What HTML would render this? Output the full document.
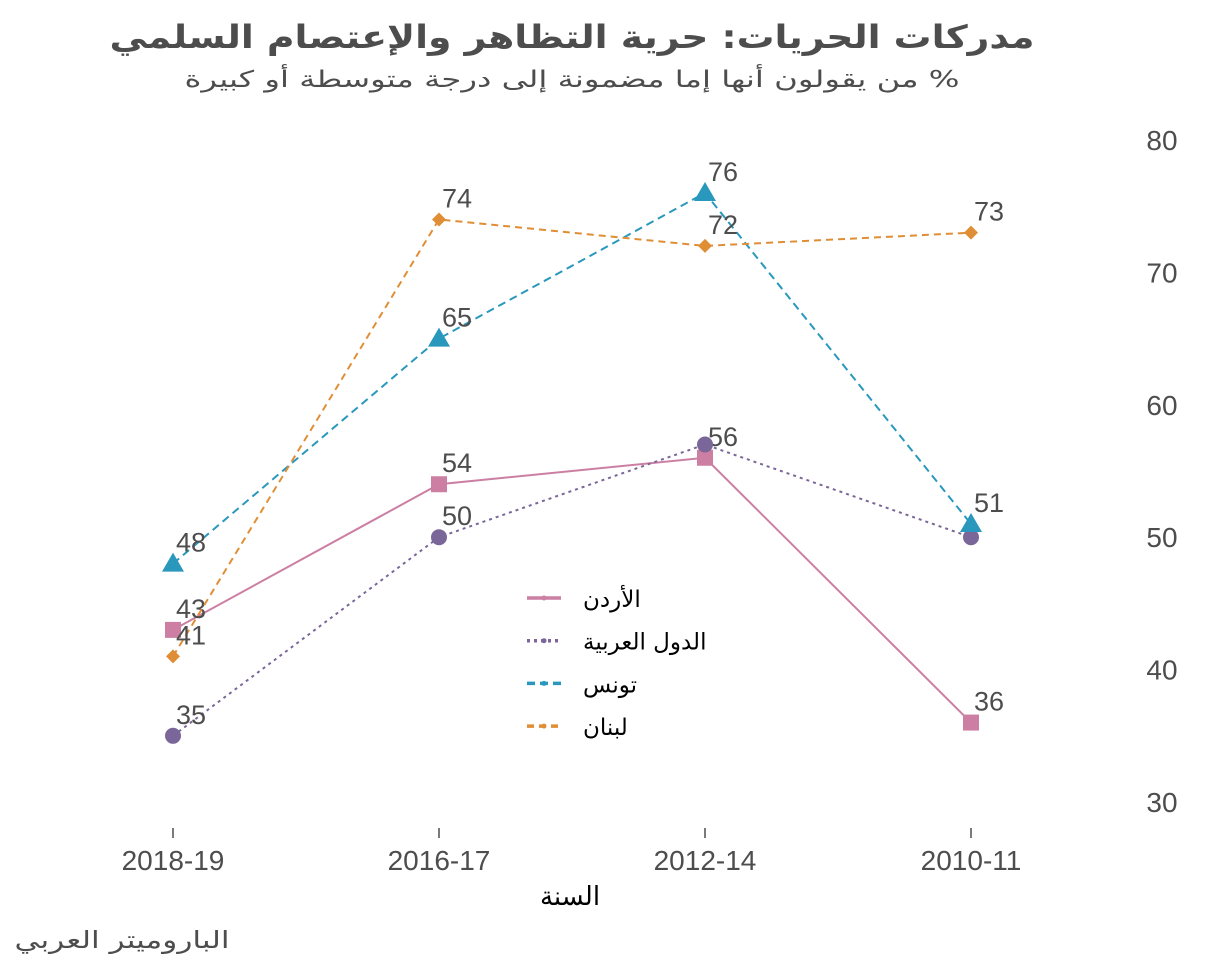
<!DOCTYPE html>
<html><head><meta charset="utf-8">
<style>
html,body{margin:0;padding:0;background:#fff;}
svg{display:block;font-family:"Liberation Sans","DejaVu Sans",sans-serif;}
.ar{font-family:"DejaVu Sans","Liberation Sans",sans-serif;}
</style></head>
<body>
<svg id="chart" width="1230" height="966" viewBox="0 0 1230 966">
<text class="ar" x="572" y="48" text-anchor="middle" font-size="32" font-weight="bold" fill="#4d4d4d" textLength="925" lengthAdjust="spacingAndGlyphs">مدركات الحريات: حرية التظاهر والإعتصام السلمي</text>
<text class="ar" x="572" y="87" text-anchor="middle" direction="rtl" font-size="23" fill="#4d4d4d" textLength="775" lengthAdjust="spacingAndGlyphs">% من يقولون أنها إما مضمونة إلى درجة متوسطة أو كبيرة</text>
<g id="yaxis"></g>
<g id="xaxis"></g>
<g id="series"></g>
<g id="legend"></g>
<text class="ar" x="570" y="905" text-anchor="middle" font-size="26" fill="#000">السنة</text>
<text class="ar" x="122" y="948" text-anchor="middle" font-size="24" fill="#4d4d4d" textLength="215" lengthAdjust="spacingAndGlyphs">الباروميتر العربي</text>
</svg>
<script>
const categories = ["2018-19","2016-17","2012-14","2010-11"];
const yTicks = [30,40,50,60,70,80];
const seriesNames = ["الأردن","الدول العربية","تونس","لبنان"];
const jordan = [43,54,56,36];
const arab = [35,50,57,50];
const tunisia = [48,65,76,51];
const lebanon = [41,74,72,73];
const jordanLabels = [true,true,true,true];
const arabLabels = [true,true,false,false];
const tunisiaLabels = [true,true,true,true];
const lebanonLabels = [true,true,true,true];

const NS="http://www.w3.org/2000/svg";
function x(i){return 173+i*266;}
function y(v){return 802-(v-30)*13.24;}
function mk(tag,attrs,parent){const e=document.createElementNS(NS,tag);for(const k in attrs)e.setAttribute(k,attrs[k]);parent.appendChild(e);return e;}

const ya=document.getElementById('yaxis');
yTicks.forEach(t=>{const e=mk('text',{x:1162,y:y(t)+10,'text-anchor':'middle','font-size':28,fill:'#4d4d4d'},ya);


e.textContent=t;});
const xa=document.getElementById('xaxis');
categories.forEach((c,i)=>{const l=mk('line',{x1:x(i),x2:x(i),y1:828,y2:838,stroke:'#4d4d4d','stroke-width':1.5},xa);


const e=mk('text',{x:x(i),y:870,'text-anchor':'middle','font-size':28,fill:'#4d4d4d'},xa);


e.textContent=c;});

const defs=[
 {d:jordan,lab:jordanLabels,c:'#cc7fa2',dash:'',m:'square',n:'jordan'},
 {d:arab,lab:arabLabels,c:'#7a6699',dash:'3,4',m:'circle',n:'arab-states'},
 {d:tunisia,lab:tunisiaLabels,c:'#2a98bd',dash:'8,5',m:'triangle',n:'tunisia'},
 {d:lebanon,lab:lebanonLabels,c:'#e08e35',dash:'7,5',m:'diamond',n:'lebanon'}];
const sg=document.getElementById('series');
function marker(m,cx,cy,c,g){
 let e;
 if(m==='square')e=mk('rect',{x:cx-8,y:cy-8,width:16,height:16,fill:c},g);
 else if(m==='circle')e=mk('circle',{cx:cx,cy:cy,r:8,fill:c},g);
 else if(m==='triangle')e=mk('polygon',{points:`${cx},${cy-11} ${cx+11},${cy+8} ${cx-11},${cy+8}`,fill:c},g);
 else e=mk('polygon',{points:`${cx},${cy-7} ${cx+7},${cy} ${cx},${cy+7} ${cx-7},${cy}`,fill:c},g);
 return e;}
defs.forEach(s=>{
 const g=mk('g',{},sg);
 
 
 const pl=mk('polyline',{points:s.d.map((v,i)=>x(i)+','+y(v)).join(' '),fill:'none',stroke:s.c,'stroke-width':2,'stroke-dasharray':s.dash},g);
 
 
 s.d.forEach((v,i)=>{
  const m=marker(s.m,x(i),y(v),s.c,g);
  
  
  if(s.lab[i]){const t=mk('text',{x:x(i)+3,y:y(v)-12,'font-size':27,fill:'#4d4d4d'},g);
   
   
   t.textContent=v;}
 });
});
const lg=document.getElementById('legend');
defs.forEach((s,i)=>{
 const yy=598+i*42.7;
 const g=mk('g',{},lg);
 
 
 mk('line',{x1:527,x2:561,y1:yy,y2:yy,stroke:s.c,'stroke-width':3.5,'stroke-dasharray':s.dash},g);
 mk('circle',{cx:544,cy:yy,r:2.5,fill:s.c},g);
 const t=mk('text',{x:583,y:yy+9,'font-size':23,fill:'#000','class':'ar'},g);
 t.textContent=seriesNames[i];
});
</script>
</body></html>
